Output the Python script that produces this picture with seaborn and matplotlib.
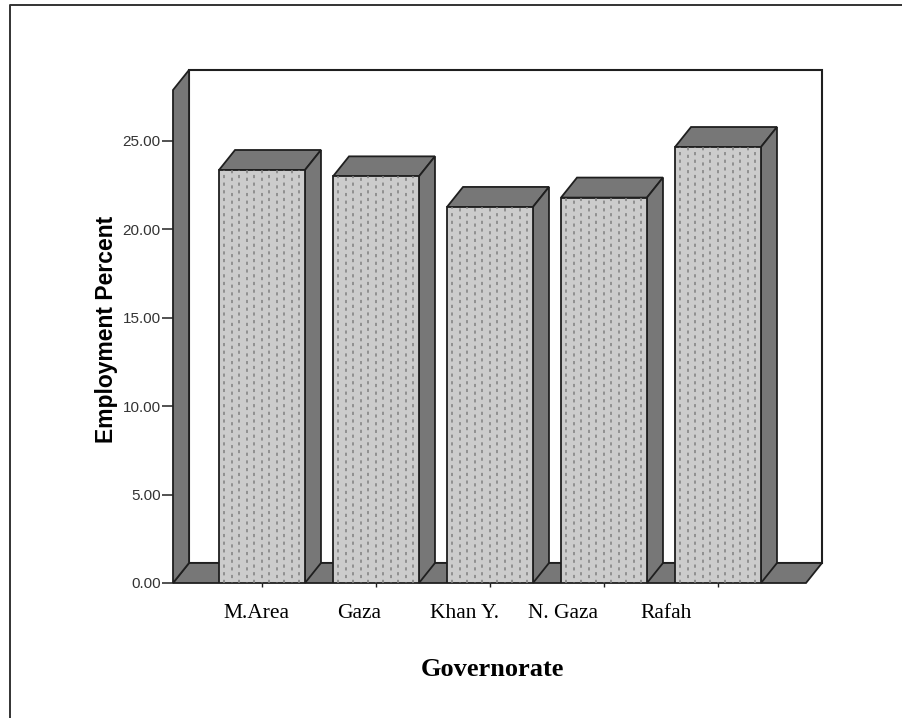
import numpy as np
import pandas as pd
import matplotlib
matplotlib.use("Agg")
import matplotlib.pyplot as plt
import seaborn as sns
from matplotlib.patches import Polygon, Rectangle
from matplotlib.transforms import ScaledTranslation

governorates = ["M.Area", "Gaza", "Khan Y.", "N. Gaza", "Rafah"]
employment = [23.36, 23.0, 21.27, 21.8, 24.66]
y_ticks = [0, 5, 10, 15, 20, 25]

W, H = 902, 718
DARK = "#777777"
LINE = "#1f1f1f"
BAR = "#cccccc"

sns.set_style("white")
plt.rcParams["font.family"] = ["Liberation Sans", "DejaVu Sans"]

fig = plt.figure(figsize=(W / 100, H / 100), dpi=100)
ax = fig.add_axes([173 / W, 1 - 583 / H, (822 - 173) / W, (583 - 70) / H])

df = pd.DataFrame({"gov": governorates, "pct": employment})
sns.barplot(data=df, x="gov", y="pct", color=BAR, saturation=1, width=0.754,
            edgecolor=LINE, linewidth=1.3, ax=ax, zorder=5)

# pixel scale of the original plot
px_x = 1 / 114
px_y = 1 / 17.68
ax.set_xlim(-89 * px_x, 560 * px_x)
ax.set_ylim(0, 513 * px_y)
x0, x1 = ax.get_xlim()
y1 = ax.get_ylim()[1]
dx, dy = 16 * px_x, 20 * px_y


def poly(pts, z=3, fc=DARK):
    ax.add_patch(Polygon(pts, closed=True, facecolor=fc, edgecolor=LINE,
                         linewidth=1.3, zorder=z, clip_on=False, joinstyle="miter"))


# back wall, side wall and floor
ax.add_patch(Rectangle((x0 + dx, dy), x1 - x0 - dx, y1 - dy, facecolor="white",
                       edgecolor=LINE, linewidth=1.5, zorder=1, clip_on=False))
poly([(x0, 0), (x1 - dx, 0), (x1, dy), (x0 + dx, dy)], z=2)
poly([(x0, 0), (x0 + dx, dy), (x0 + dx, y1), (x0, y1 - dy)], z=2)

# 3d sides of each bar + stipple
for bar in ax.patches:
    if not (isinstance(bar, Rectangle) and bar.get_zorder() == 5):
        continue
    a, b, h = bar.get_x(), bar.get_x() + bar.get_width(), bar.get_height()
    poly([(a, h), (b, h), (b + dx, h + dy), (a + dx, h + dy)], z=4)
    poly([(b, 0), (b + dx, dy), (b + dx, h + dy), (b, h)], z=4)
    xs = np.arange(a + 5 * px_x, b - 2 * px_x, 7.5 * px_x)
    for k, xv in enumerate(xs):
        ax.vlines(xv, 0, h, colors="#808080", linewidth=1.1, zorder=6,
                  linestyles=[((k % 2) * 1.8, (2.1, 2.9))])

ax.set_yticks(y_ticks)
ax.set_yticklabels([f"{v:.2f}" for v in y_ticks], fontsize=11, color="#333333")
ax.tick_params(axis="y", length=8, width=1.2, color="#333333", pad=1, left=True)
ax.tick_params(axis="x", length=3, width=1, color=LINE, bottom=True, pad=12)
ax.set_xticks(range(len(governorates)))
ax.set_xticklabels(governorates, family="Liberation Serif", fontsize=15.5, color="black")

# the labels do not sit under the bars in the original
label_shift = [-6, -16.5, -25, -41.5, -52]
for lab, s in zip(ax.get_xticklabels(), label_shift):
    lab.set_transform(lab.get_transform() + ScaledTranslation(s / 100, 0, fig.dpi_scale_trans))

ax.set_xlabel("Governorate", family="Liberation Serif", fontweight="bold", fontsize=19, color="black")
ax.xaxis.set_label_coords((492.5 - 173) / (822 - 173), -(670 - 583) / (583 - 70), transform=ax.transAxes)
ax.xaxis.label.set_va("center")
ax.set_ylabel("Employment Percent", fontweight="bold", fontsize=16.5, color="black")
ax.yaxis.set_label_coords(-(173 - 106) / (822 - 173), (583 - 329) / (583 - 70), transform=ax.transAxes)
ax.yaxis.label.set_va("center")

sns.despine(ax=ax, left=True, bottom=True, top=True, right=True)
ax.patch.set_alpha(0)

# outer box, runs off the image at right and bottom
fig.add_artist(plt.Line2D([10 / W, 10 / W, 1], [0, 1 - 4.5 / H, 1 - 4.5 / H],
                          color="#333333", linewidth=1.4, transform=fig.transFigure))

fig.savefig("out.png", dpi=100)
plt.close(fig)
